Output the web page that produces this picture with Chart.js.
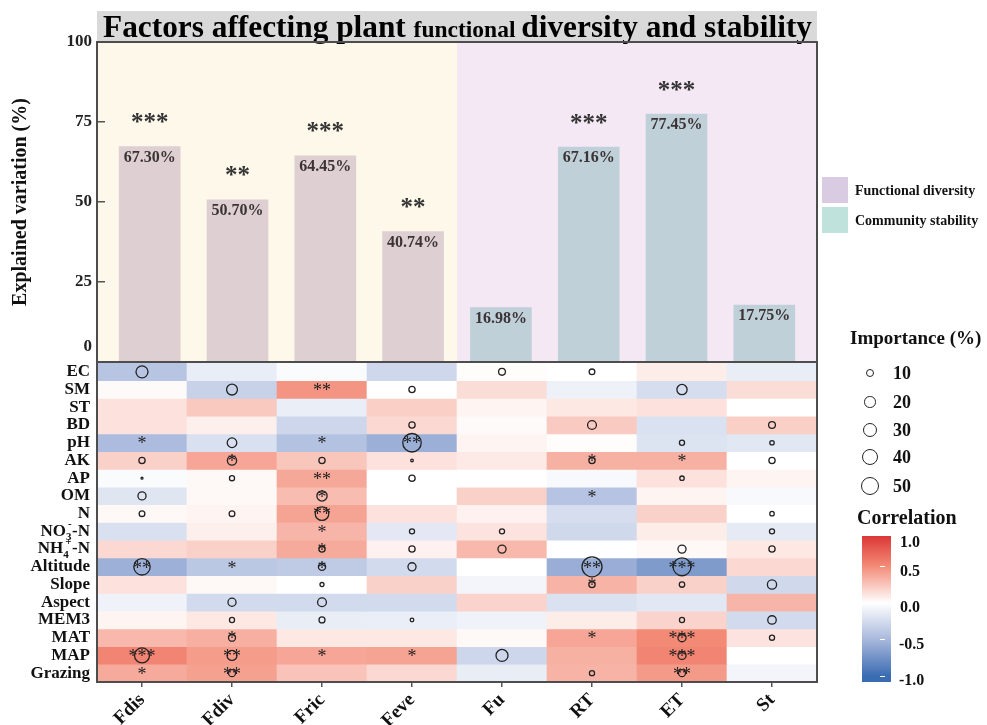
<!DOCTYPE html>
<html>
<head>
<meta charset="utf-8">
<script src="https://cdn.jsdelivr.net/npm/chart.js@4.4.1/dist/chart.umd.min.js"></script>
<style>
  html, body { margin: 0; padding: 0; background: #fff; width: 987px; height: 725px; overflow: hidden; }
  canvas { position: absolute; left: 0; }
  #barCanvas { top: 0; }
  #heatCanvas { top: 362px; }
  .lg { position: absolute; font-family: 'Liberation Serif', 'Times New Roman', serif; font-weight: bold; color: #111; white-space: nowrap; }
  .ring { position: absolute; border: 1.3px solid #222; border-radius: 50%; box-sizing: border-box; }
</style>
</head>
<body>
<canvas id="barCanvas" width="987" height="392"></canvas>
<canvas id="heatCanvas" width="987" height="363"></canvas>
<div id="legend"></div>
<script>
const F = "'Liberation Serif', 'Times New Roman', serif";

// ---- explained variation per response ----
const responses = ['Fdis', 'Fdiv', 'Fric', 'Feve', 'Fu', 'RT', 'ET', 'St'];
const explained = [67.30, 50.70, 64.45, 40.74, 16.98, 67.16, 77.45, 17.75];
const explainedSig = ['***', '**', '***', '**', '', '***', '***', ''];
const yTickValues = [0, 25, 50, 75, 100];
const groupNames = ['Functional diversity', 'Community stability'];

// ---- predictors (rows of the heatmap) ----
const factors = ['EC', 'SM', 'ST', 'BD', 'pH', 'AK', 'AP', 'OM', 'N', 'NO_{3}^{-}-N', 'NH_{4}^{+}-N',
  'Altitude', 'Slope', 'Aspect', 'MEM3', 'MAT', 'MAP', 'Grazing'];

// correlation of each predictor with each response (rows = factors, cols = responses)
const correlation = [
  [-0.41, -0.13, -0.03, -0.28, 0.01, 0.00, 0.08, -0.13],
  [0.02, -0.32, 0.46, 0.00, 0.15, -0.10, -0.24, 0.15],
  [0.13, 0.24, -0.12, 0.21, 0.05, 0.10, 0.13, 0.00],
  [0.13, 0.07, -0.29, 0.17, 0.02, 0.23, -0.21, 0.21],
  [-0.47, -0.22, -0.43, -0.56, 0.05, 0.01, -0.20, -0.17],
  [0.20, 0.39, 0.25, 0.13, 0.09, 0.34, 0.34, 0.00],
  [-0.03, 0.03, 0.38, 0.00, 0.00, -0.04, 0.13, 0.05],
  [-0.18, 0.03, 0.29, 0.00, 0.20, -0.42, 0.05, -0.04],
  [0.03, 0.05, 0.40, 0.13, 0.06, -0.24, 0.20, 0.00],
  [-0.22, 0.07, 0.32, -0.16, 0.12, -0.27, 0.08, -0.15],
  [0.17, 0.20, 0.37, 0.06, 0.31, 0.00, 0.03, 0.10],
  [-0.55, -0.39, -0.37, -0.26, 0.00, -0.57, -0.69, 0.17],
  [0.13, 0.03, 0.00, 0.20, -0.07, 0.33, 0.20, -0.27],
  [-0.09, -0.26, -0.26, -0.26, 0.19, -0.21, -0.17, 0.32],
  [0.05, 0.10, -0.13, -0.12, -0.09, 0.08, 0.19, -0.26],
  [0.31, 0.35, 0.10, 0.10, 0.03, 0.39, 0.51, 0.12],
  [0.54, 0.43, 0.39, 0.40, -0.29, 0.34, 0.54, 0.00],
  [0.37, 0.41, 0.26, 0.17, -0.13, 0.33, 0.44, -0.07]
];

// relative importance (%) of each predictor; null = not retained
const importance = [
  [22, null, null, null, 7, 5, null, null],
  [null, 18, null, 6, null, null, 16, null],
  [null, null, null, null, null, null, null, null],
  [null, null, null, 6, null, 12, null, 7],
  [null, 14, null, 52, null, null, 4, 3],
  [6, 13, 6, 1, null, 6, null, 6],
  [0.6, 4, null, 6, null, null, 3, null],
  [10, null, 16, null, null, null, null, null],
  [5, 5, 28, null, null, null, null, 3],
  [null, null, null, 4, 4, null, null, 4],
  [null, null, 6, 6, 10, null, 10, 6],
  [41, null, 8, 10, null, 61, 49, null],
  [null, null, 2.5, null, null, 6, 4.5, 13],
  [null, 10, 12, null, null, null, null, null],
  [null, 4, 5.5, 2, null, null, 4, 11],
  [null, 7.5, null, null, null, null, 10, 4],
  [34, 15, null, null, 22, null, 10, null],
  [null, 7.5, null, null, null, 4, 7.5, null]
];

// significance marks
const significance = [
  ['', '', '', '', '', '', '', ''],
  ['', '', '**', '', '', '', '', ''],
  ['', '', '', '', '', '', '', ''],
  ['', '', '', '', '', '', '', ''],
  ['*', '', '*', '**', '', '', '', ''],
  ['', '*', '', '', '', '*', '*', ''],
  ['', '', '**', '', '', '', '', ''],
  ['', '', '*', '', '', '*', '', ''],
  ['', '', '**', '', '', '', '', ''],
  ['', '', '*', '', '', '', '', ''],
  ['', '', '*', '', '', '', '', ''],
  ['**', '*', '*', '', '', '**', '***', ''],
  ['', '', '', '', '', '*', '', ''],
  ['', '', '', '', '', '', '', ''],
  ['', '', '', '', '', '', '', ''],
  ['', '*', '', '', '', '*', '***', ''],
  ['***', '**', '*', '*', '', '', '***', ''],
  ['*', '**', '', '', '', '', '**', '']
];

const importanceKey = [10, 20, 30, 40, 50];
const corrKey = [1.0, 0.5, 0.0, -0.5, -1.0];

// ---- styling helpers ----
const FRAME = '#4d4d4d';
const corrStops = [
  [-1.0, [58, 108, 178]],
  [-0.5, [168, 184, 220]],
  [0.0, [255, 255, 255]],
  [0.5, [243, 140, 120]],
  [1.0, [215, 38, 40]]
];
function corrColor(v) {
  v = Math.max(-1, Math.min(1, v));
  for (let i = 0; i < corrStops.length - 1; i++) {
    const [a, ca] = corrStops[i], [b, cb] = corrStops[i + 1];
    if (v >= a && v <= b) {
      const t = (v - a) / (b - a);
      const c = ca.map((x, k) => Math.round(x + (cb[k] - x) * t));
      return `rgb(${c[0]},${c[1]},${c[2]})`;
    }
  }
  return '#fff';
}
function radiusFor(v) { return 1.28 * Math.sqrt(v); }

Chart.defaults.font.family = F;
Chart.defaults.animation = false;

// ---- upper panel: explained variation bars ----
const barPanelDecor = {
  id: 'barPanelDecor',
  beforeDraw(chart) {
    const { ctx, chartArea: a, scales } = chart;
    const split = scales.x.getPixelForValue(3.5);
    ctx.save();
    ctx.fillStyle = '#fdf8ea';
    ctx.fillRect(a.left, a.top, split - a.left, a.bottom - a.top);
    ctx.fillStyle = '#f5e8f5';
    ctx.fillRect(split, a.top, a.right - split, a.bottom - a.top);
    // title band
    ctx.fillStyle = '#d9d9d9';
    ctx.fillRect(a.left, 11, a.right - a.left, a.top - 11);
    const parts = [['Factors affecting plant ', 32], ['functional ', 24], ['diversity and stability', 32]];
    let total = 0;
    const widths = parts.map(([t, s]) => { ctx.font = `bold ${s}px ${F}`; const w = ctx.measureText(t).width; total += w; return w; });
    const target = 709;
    const sx = Math.min(1, target / total);
    ctx.translate(a.left + 6, 37);
    ctx.scale(sx, 1);
    ctx.fillStyle = '#000';
    ctx.textBaseline = 'alphabetic';
    let x = 0;
    parts.forEach(([t, s], i) => { ctx.font = `bold ${s}px ${F}`; ctx.fillText(t, x, 0); x += widths[i]; });
    ctx.restore();
  },
  afterDatasetsDraw(chart) {
    const { ctx } = chart;
    const meta = chart.getDatasetMeta(0);
    ctx.save();
    ctx.textAlign = 'center';
    meta.data.forEach((el, i) => {
      ctx.textBaseline = 'middle';
      ctx.fillStyle = '#3b3335';
      ctx.font = `bold 16px ${F}`;
      ctx.fillText(explained[i].toFixed(2) + '%', el.x, el.y + 11);
      if (explainedSig[i]) {
        ctx.fillStyle = '#333';
        ctx.font = `bold 25px ${F}`;
        ctx.fillText(explainedSig[i], el.x, el.y - 23);
      }
    });
    ctx.restore();
  },
  afterDraw(chart) {
    const { ctx, chartArea: a, scales } = chart;
    ctx.save();
    ctx.strokeStyle = FRAME;
    ctx.lineWidth = 2;
    ctx.strokeRect(a.left, a.top, a.right - a.left, a.bottom - a.top);
    // baseline label, lifted clear of the heatmap edge
    ctx.fillStyle = '#222';
    ctx.font = `bold 17px ${F}`;
    ctx.textAlign = 'right';
    ctx.textBaseline = 'middle';
    ctx.fillText(String(yTickValues[0]), a.left - 5, scales.y.getPixelForValue(yTickValues[0]) - 15);
    ctx.restore();
  }
};

new Chart(document.getElementById('barCanvas'), {
  type: 'bar',
  data: {
    datasets: [{
      label: 'Explained variation',
      data: explained.map((v, i) => ({ x: i, y: v })),
      backgroundColor: explained.map((_, i) => (i < 4 ? '#ded0d2' : '#bfd0d9')),
      borderWidth: 0,
      barThickness: 61
    }]
  },
  options: {
    responsive: false,
    events: [],
    layout: { autoPadding: false, padding: { top: 42, right: 170, bottom: 30, left: 0 } },
    plugins: { legend: { display: false }, tooltip: { enabled: false } },
    scales: {
      x: { type: 'linear', offset: false, min: -0.6, max: 7.6, display: false },
      y: {
        min: 0, max: 100,
        afterFit(s) { s.width = 97; },
        afterBuildTicks(s) { s.ticks = yTickValues.filter(v => v !== 0).map(v => ({ value: v })); },
        ticks: { padding: 13, color: '#222', font: { size: 17, weight: 'bold' } },
        grid: { drawOnChartArea: false, drawTicks: true, tickLength: -8, color: '#555', lineWidth: 1.5 },
        border: { display: false },
        title: {
          display: true, text: 'Explained variation (%)', color: '#111',
          font: { size: 20, weight: 'bold' }, padding: { top: 9, bottom: 0 }
        }
      }
    }
  },
  plugins: [barPanelDecor]
});

// ---- lower panel: correlation heatmap with importance circles ----
function drawRichLabel(ctx, text, xRight, y) {
  const tokens = text.split(/(_\{[^}]*\}|\^\{[^}]*\})/).filter(s => s.length);
  const big = `bold 17px ${F}`, small = `bold 11px ${F}`;
  const runs = [];
  let i = 0;
  while (i < tokens.length) {
    const t = tokens[i];
    if (t.startsWith('_{') && tokens[i + 1] && tokens[i + 1].startsWith('^{')) {
      runs.push({ sub: t.slice(2, -1), sup: tokens[i + 1].slice(2, -1) });
      i += 2;
    } else if (t.startsWith('_{')) { runs.push({ sub: t.slice(2, -1) }); i++; }
    else if (t.startsWith('^{')) { runs.push({ sup: t.slice(2, -1) }); i++; }
    else { runs.push({ text: t }); i++; }
  }
  runs.forEach(r => {
    if (r.text !== undefined) { ctx.font = big; r.w = ctx.measureText(r.text).width; }
    else {
      ctx.font = small;
      r.w = Math.max(r.sub ? ctx.measureText(r.sub).width : 0, r.sup ? ctx.measureText(r.sup).width + 2 : 0) + 0.5;
    }
  });
  let x = xRight - runs.reduce((s, r) => s + r.w, 0);
  ctx.textAlign = 'left';
  ctx.textBaseline = 'middle';
  runs.forEach(r => {
    if (r.text !== undefined) { ctx.font = big; ctx.fillText(r.text, x, y); }
    else {
      ctx.font = small;
      if (r.sub) ctx.fillText(r.sub, x, y + 6);
      if (r.sup) ctx.fillText(r.sup, x + 2, y - 7);
    }
    x += r.w;
  });
}

const heatDecor = {
  id: 'heatDecor',
  afterDatasetsDraw(chart) {
    const { ctx, scales } = chart;
    ctx.save();
    ctx.fillStyle = '#1e1e1e';
    ctx.font = `18px ${F}`;
    ctx.textAlign = 'center';
    ctx.textBaseline = 'middle';
    significance.forEach((row, r) => row.forEach((s, c) => {
      if (!s) return;
      ctx.fillText(s, scales.x.getPixelForValue(c), scales.y.getPixelForValue(r + 0.5) + 2);
    }));
    ctx.restore();
  },
  afterDraw(chart) {
    const { ctx, chartArea: a, scales } = chart;
    ctx.save();
    ctx.strokeStyle = FRAME;
    ctx.lineWidth = 2;
    ctx.beginPath();
    ctx.moveTo(a.left, a.top - 1);
    ctx.lineTo(a.left, a.bottom);
    ctx.lineTo(a.right, a.bottom);
    ctx.lineTo(a.right, a.top - 1);
    ctx.stroke();
    ctx.fillStyle = '#111';
    factors.forEach((name, r) => drawRichLabel(ctx, name, a.left - 7, scales.y.getPixelForValue(r + 0.5)));
    ctx.restore();
  }
};

const cellDatasets = factors.map((name, r) => ({
  type: 'bar',
  label: name,
  data: responses.map(() => [r, r + 1]),
  backgroundColor: correlation[r].map(corrColor),
  borderWidth: 0,
  barPercentage: 1,
  categoryPercentage: 1,
  grouped: false,
  order: 1
}));

const bubblePoints = [];
importance.forEach((row, r) => row.forEach((v, c) => {
  if (v != null) bubblePoints.push({ x: responses[c], y: r + 0.5, r: radiusFor(v) });
}));

new Chart(document.getElementById('heatCanvas'), {
  type: 'bar',
  data: {
    labels: responses,
    datasets: [
      {
        type: 'bubble', label: 'Importance (%)', data: bubblePoints,
        backgroundColor: 'rgba(0,0,0,0)', borderColor: '#222', borderWidth: 1.3, order: 0
      },
      ...cellDatasets
    ]
  },
  options: {
    responsive: false,
    events: [],
    layout: { autoPadding: false, padding: { top: 1, right: 170, bottom: 0, left: 0 } },
    plugins: { legend: { display: false }, tooltip: { enabled: false } },
    scales: {
      x: {
        type: 'category', offset: true,
        afterFit(s) { s.height = 43; },
        ticks: { color: '#111', font: { size: 19, weight: 'bold' }, minRotation: 45, maxRotation: 45, autoSkip: false, padding: 2 },
        grid: { offset: false, drawOnChartArea: false, drawTicks: true, tickLength: 5, color: '#555', lineWidth: 1.5 },
        border: { display: false }
      },
      y: {
        type: 'linear', min: 0, max: factors.length, reverse: true,
        afterFit(s) { s.width = 97; },
        ticks: { display: false },
        grid: { display: false },
        border: { display: false }
      }
    }
  },
  plugins: [heatDecor]
});

// ---- legends ----
const root = document.getElementById('legend');
function addText(txt, left, cy, size) {
  const d = document.createElement('div');
  d.className = 'lg';
  d.textContent = txt;
  d.style.left = left + 'px';
  d.style.fontSize = size + 'px';
  d.style.lineHeight = Math.round(size * 1.2) + 'px';
  d.style.top = (cy - size * 0.6) + 'px';
  root.appendChild(d);
  return d;
}
function addBox(left, top, w, h, css) {
  const d = document.createElement('div');
  d.style.position = 'absolute';
  d.style.left = left + 'px'; d.style.top = top + 'px';
  d.style.width = w + 'px'; d.style.height = h + 'px';
  Object.assign(d.style, css || {});
  root.appendChild(d);
  return d;
}

// group key
const groupColors = ['#d8cbe2', '#c0e2dc'];
groupNames.forEach((name, i) => {
  addBox(822, 177 + i * 30, 26, 26, { background: groupColors[i] });
  addText(name, 855, 190 + i * 30, 14);
});

// importance key
addText('Importance (%)', 850, 337, 19);
importanceKey.forEach((v, i) => {
  const cy = [373, 402, 430, 457, 486][i];
  const r = radiusFor(v);
  const ring = addBox(870 - r, cy - r, 2 * r, 2 * r);
  ring.className = 'ring';
  addText(String(v), 893, cy, 18);
});

// correlation colour bar
addText('Correlation', 857, 517, 20);
const barTop = 536, barH = 146, zeroY = 603, pxPerUnit = 73;
const valAt = y => (zeroY - y) / pxPerUnit;
const stops = [];
for (let k = 0; k <= 24; k++) {
  const y = barTop + barH * k / 24;
  stops.push(`${corrColor(valAt(y))} ${(100 * k / 24).toFixed(1)}%`);
}
addBox(862, barTop, 29, barH, { background: `linear-gradient(to bottom, ${stops.join(', ')})` });
corrKey.forEach(v => {
  const ty = zeroY - v * pxPerUnit;
  if (ty > barTop && ty < barTop + barH) addBox(880, ty - 0.5, 5, 1.2, { background: '#fff' });
  const ly = Math.max(barTop + 6, ty + 4);
  addText(v.toFixed(1), v < 0 ? 899 : 900, ly, 16);
});
</script>
</body>
</html>
